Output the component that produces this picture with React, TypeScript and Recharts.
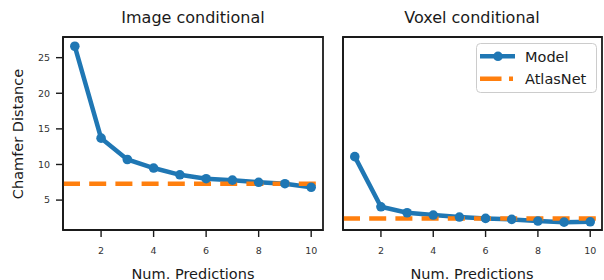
import React from "react";
import { LineChart, Line, XAxis, YAxis, ReferenceLine, ReferenceArea, Legend } from "recharts";

const predictions = [1, 2, 3, 4, 5, 6, 7, 8, 9, 10];
const imageModel = [26.6, 13.7, 10.7, 9.5, 8.55, 8.0, 7.8, 7.5, 7.3, 6.8];
const voxelModel = [11.1, 4.06, 3.22, 2.9, 2.62, 2.43, 2.29, 2.06, 1.9, 1.95];
const imageAtlasNet = 7.3;
const voxelAtlasNet = 2.43;
const xTicks = [2, 4, 6, 8, 10];
const yTicks = [5, 10, 15, 20, 25];
const titles = ["Image conditional", "Voxel conditional"];
const seriesNames = ["Model", "AtlasNet"];

const BLUE = "#1f77b4";
const ORANGE = "#ff7f0e";
const FONT = "DejaVu Sans, sans-serif";
const X_DOMAIN: [number, number] = [0.55, 10.45];
const Y_DOMAIN: [number, number] = [0.8, 27.9];

const imageData = predictions.map((n, i) => ({ n, model: imageModel[i] }));
const voxelData = predictions.map((n, i) => ({ n, model: voxelModel[i] }));

const axisLine = { stroke: "#1a1a1a", strokeWidth: 1.8 };
const tickLine = { stroke: "#1a1a1a", strokeWidth: 1.4 };

function LegendBox() {
  return (
    <svg width={122} height={51} style={{ display: "block", overflow: "visible" }}>
      <rect x={0.5} y={0.5} width={120} height={49} rx={4} ry={4} fill="#fff" fillOpacity={0.8} stroke="#cccccc" strokeWidth={1} />
      <line x1={4} y1={13.3} x2={39} y2={13.3} stroke={BLUE} strokeWidth={4.5} />
      <circle cx={22} cy={13.3} r={4.8} fill={BLUE} />
      <text x={49} y={18.5} fontSize={14.5} fontFamily={FONT} fill="#1a1a1a">{seriesNames[0]}</text>
      <line x1={4} y1={35.7} x2={37} y2={35.7} stroke={ORANGE} strokeWidth={4.5} strokeDasharray="21.5 7.5" />
      <text x={49} y={41} fontSize={14.5} fontFamily={FONT} fill="#1a1a1a">{seriesNames[1]}</text>
    </svg>
  );
}

function Panel({ data, atlas, showLabels, width, yWidth, right, legend }: any) {
  return (
    <LineChart width={width} height={280} data={data} margin={{ top: 37, right, bottom: 20, left: 0 }}>
      <XAxis
        dataKey="n"
        type="number"
        domain={X_DOMAIN}
        allowDataOverflow
        ticks={xTicks}
        height={30}
        tickSize={7}
        tickMargin={10}
        axisLine={axisLine}
        tickLine={tickLine}
        tick={{ fontSize: 9.5, fill: "#333", fontFamily: FONT }}
      />
      <YAxis
        type="number"
        domain={Y_DOMAIN}
        allowDataOverflow
        ticks={yTicks}
        width={yWidth}
        tickSize={7}
        tickMargin={6}
        axisLine={axisLine}
        tickLine={tickLine}
        tick={showLabels ? { fontSize: 9.5, fill: "#333", fontFamily: FONT } : false}
      />
      <Line
        dataKey="model"
        stroke={BLUE}
        strokeWidth={4.5}
        dot={{ r: 4.8, fill: BLUE, stroke: "none" }}
        isAnimationActive={false}
      />
      <ReferenceLine y={atlas} stroke={ORANGE} strokeWidth={4.5} strokeDasharray="17 9.2" />
      <ReferenceArea
        x1={X_DOMAIN[0]}
        x2={X_DOMAIN[1]}
        y1={Y_DOMAIN[0]}
        y2={Y_DOMAIN[1]}
        ifOverflow="visible"
        fill="none"
        fillOpacity={0}
        stroke="#1a1a1a"
        strokeWidth={1.8}
        strokeOpacity={1}
      />
      {legend ? (
        <Legend
          layout="horizontal"
          verticalAlign="middle"
          align="center"
          wrapperStyle={{ left: 146, top: 43, width: 122, height: 51 }}
          content={() => <LegendBox />}
        />
      ) : null}
    </LineChart>
  );
}

export default function App() {
  return (
    <div style={{ position: "absolute", left: 0, top: 0, width: 604, height: 280, background: "#fff", fontFamily: FONT }}>
      <div style={{ position: "absolute", left: 0, top: 0 }}>
        <Panel data={imageData} atlas={imageAtlasNet} showLabels width={330} yWidth={63} right={7} legend={false} />
      </div>
      <div style={{ position: "absolute", left: 330, top: 0 }}>
        <Panel data={voxelData} atlas={voxelAtlasNet} showLabels={false} width={274} yWidth={13} right={2} legend />
      </div>
      <svg width={604} height={280} style={{ position: "absolute", left: 0, top: 0, pointerEvents: "none" }}>
        <text x={193} y={22.7} textAnchor="middle" fontSize={16} fontFamily={FONT} fill="#1a1a1a">{titles[0]}</text>
        <text x={472} y={22.7} textAnchor="middle" fontSize={16} fontFamily={FONT} fill="#1a1a1a">{titles[1]}</text>
        <text x={193} y={278.5} textAnchor="middle" fontSize={14.5} fontFamily={FONT} fill="#1a1a1a">Num. Predictions</text>
        <text x={472} y={278.5} textAnchor="middle" fontSize={14.5} fontFamily={FONT} fill="#1a1a1a">Num. Predictions</text>
        <text x={22.5} y={134} textAnchor="middle" fontSize={14.5} fontFamily={FONT} fill="#1a1a1a" transform="rotate(-90 22.5 134)">Chamfer Distance</text>
      </svg>
    </div>
  );
}
